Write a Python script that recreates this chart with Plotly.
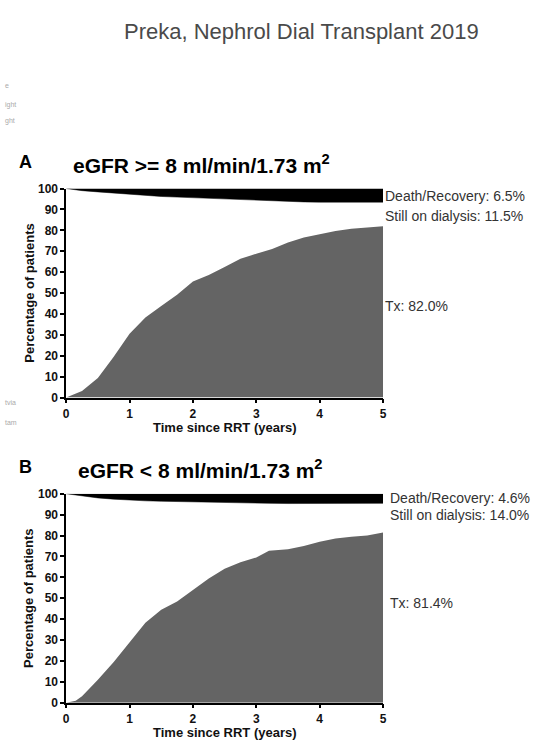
import plotly.graph_objects as go

# Follow-up time (years since start of renal replacement therapy)
years_a = [0, 0.25, 0.5, 0.75, 1.0, 1.25, 1.5, 1.75, 2.0, 2.25, 2.5, 2.75,
           3.0, 3.25, 3.5, 3.75, 4.0, 4.25, 4.5, 4.75, 5.0]
# Panel A: eGFR >= 8 - cumulative transplantation (%)
tx_a = [0, 3.1, 9.4, 19.5, 30.5, 38.3, 43.8, 49.2, 55.5, 58.6, 62.5, 66.4,
        68.8, 71.1, 74.2, 76.6, 78.1, 79.7, 80.8, 81.3, 82.0]
# Panel A: cumulative death / recovery (%)
death_a = [0, 1.0, 1.6, 2.2, 2.7, 3.2, 3.8, 4.1, 4.4, 4.8, 5.2, 5.5,
           5.8, 6.0, 6.3, 6.4, 6.5, 6.5, 6.5, 6.5, 6.5]

years_b = [0, 0.15, 0.25, 0.5, 0.75, 1.0, 1.25, 1.5, 1.65, 1.75, 2.0, 2.25,
           2.5, 2.75, 3.0, 3.2, 3.5, 3.75, 4.0, 4.25, 4.5, 4.75, 5.0]
# Panel B: eGFR < 8 - cumulative transplantation (%)
tx_b = [0, 1.0, 3.1, 11.0, 19.5, 29.0, 38.3, 44.5, 47.0, 48.4, 53.9, 59.4,
        64.1, 67.2, 69.5, 72.7, 73.4, 75.0, 77.0, 78.6, 79.4, 80.0, 81.4]
# Panel B: cumulative death / recovery (%)
death_b = [0, 0.7, 1.1, 2.0, 2.6, 3.1, 3.4, 3.6, 3.7, 3.8, 4.1, 4.2,
           4.4, 4.5, 4.6, 4.6, 4.7, 4.7, 4.6, 4.6, 4.6, 4.6, 4.6]

panel_letters = ["A", "B"]
panel_titles = ["eGFR >= 8 ml/min/1.73 m<sup>2</sup>", "eGFR < 8 ml/min/1.73 m<sup>2</sup>"]
end_labels = [
    ["Death/Recovery: 6.5%", "Still on dialysis: 11.5%", "Tx: 82.0%"],
    ["Death/Recovery: 4.6%", "Still on dialysis: 14.0%", "Tx: 81.4%"],
]
x_ticks = [0, 1, 2, 3, 4, 5]
y_ticks = list(range(0, 101, 10))

W, H = 545, 749
FONT = "Liberation Sans, Arial, sans-serif"
GREY_FILL = "#646464"


def px(x):
    return x / W


def py(y):
    return 1 - y / H


# plot areas in pixels: (left, top, right, bottom)
areas = [(64, 185, 385, 398), (64, 496, 385, 709)]
series = [(years_a, tx_a, death_a), (years_b, tx_b, death_b)]

fig = go.Figure()
annotations = []

for i, ((yrs, tx, death), (l, t, r, b)) in enumerate(zip(series, areas)):
    xa = "x" if i == 0 else "x2"
    ya = "y" if i == 0 else "y2"
    # transplanted share, filled from zero
    fig.add_trace(go.Scatter(x=yrs, y=tx, mode="lines", line=dict(width=0, color=GREY_FILL),
                             fill="tozeroy", fillcolor=GREY_FILL, xaxis=xa, yaxis=ya,
                             showlegend=False, hoverinfo="skip"))
    # death / recovery band hanging from 100 %
    fig.add_trace(go.Scatter(x=yrs, y=[100] * len(yrs), mode="lines",
                             line=dict(width=0, color="black"), xaxis=xa, yaxis=ya,
                             showlegend=False, hoverinfo="skip"))
    fig.add_trace(go.Scatter(x=yrs, y=[100 - d for d in death], mode="lines",
                             line=dict(width=0.5, color="black"), fill="tonexty",
                             fillcolor="black", xaxis=xa, yaxis=ya,
                             showlegend=False, hoverinfo="skip"))

    # panel letter and title
    annotations.append(dict(text=f"<b>{panel_letters[i]}</b>", x=px(14), y=py(t - 27),
                            xref="paper", yref="paper", xanchor="left", yanchor="middle",
                            showarrow=False, font=dict(family=FONT, size=18, color="black")))
    annotations.append(dict(text=f"<b>{panel_titles[i]}</b>", x=px(69 if i == 0 else 74),
                            y=py(t - 25), xref="paper", yref="paper",
                            xanchor="left", yanchor="middle", showarrow=False,
                            font=dict(family=FONT, size=21, color="black")))
    # axis titles
    annotations.append(dict(text="<b>Percentage of patients</b>", x=px(26), y=py((t + b) / 2),
                            xref="paper", yref="paper", xanchor="center", yanchor="middle",
                            textangle=-90, showarrow=False,
                            font=dict(family=FONT, size=13, color="#111")))
    annotations.append(dict(text="<b>Time since RRT (years)</b>", x=px((l + r) / 2), y=py(b + 30),
                            xref="paper", yref="paper", xanchor="center", yanchor="middle",
                            showarrow=False, font=dict(family=FONT, size=13, color="#111")))

    # end-of-follow-up labels
    lab_x = 385 if i == 0 else 390
    offsets = [(t + 8), (t + 28), (t + 120)] if i == 0 else [(t + 4), (t + 22), (t + 111)]
    for txt, yy in zip(end_labels[i], offsets):
        annotations.append(dict(text=txt, x=px(lab_x), y=py(yy), xref="paper", yref="paper",
                                xanchor="left", yanchor="middle", showarrow=False,
                                font=dict(family=FONT, size=14, color="#333")))

# source header
annotations.append(dict(text="Preka, Nephrol Dial Transplant 2019", x=px(302), y=py(25),
                        xref="paper", yref="paper", xanchor="center", yanchor="middle",
                        showarrow=False, font=dict(family=FONT, size=22, color="#4a4a4a")))

# faint fragments of neighbouring slide text at the left edge
for frag, yy in [("e", 80), ("ight", 100), ("ght", 116), ("tvia", 403), ("tam", 423)]:
    annotations.append(dict(text=frag, x=0, y=py(yy), xref="paper", yref="paper",
                            xanchor="left", yanchor="middle", showarrow=False,
                            font=dict(family=FONT, size=7, color="#aaa")))

axis_common = dict(showline=True, linecolor="black", linewidth=1.5, ticks="outside",
                   ticklen=4, tickwidth=1.5, tickcolor="black", showgrid=False,
                   zeroline=False, tickfont=dict(family=FONT, size=12, color="#111", weight="bold"))

layout_axes = {}
for i, (l, t, r, b) in enumerate(areas):
    sx = "" if i == 0 else "2"
    layout_axes[f"xaxis{sx}"] = dict(axis_common, domain=[px(l), px(r)], range=[0, 5],
                                     tickvals=x_ticks, anchor=f"y{sx}")
    layout_axes[f"yaxis{sx}"] = dict(axis_common, domain=[py(b), py(t)], range=[0, 100],
                                     tickvals=y_ticks, anchor=f"x{sx}")

fig.update_layout(width=W, height=H, margin=dict(l=0, r=0, t=0, b=0),
                  paper_bgcolor="white", plot_bgcolor="white",
                  annotations=annotations, **layout_axes)

fig.write_html("out.html")
